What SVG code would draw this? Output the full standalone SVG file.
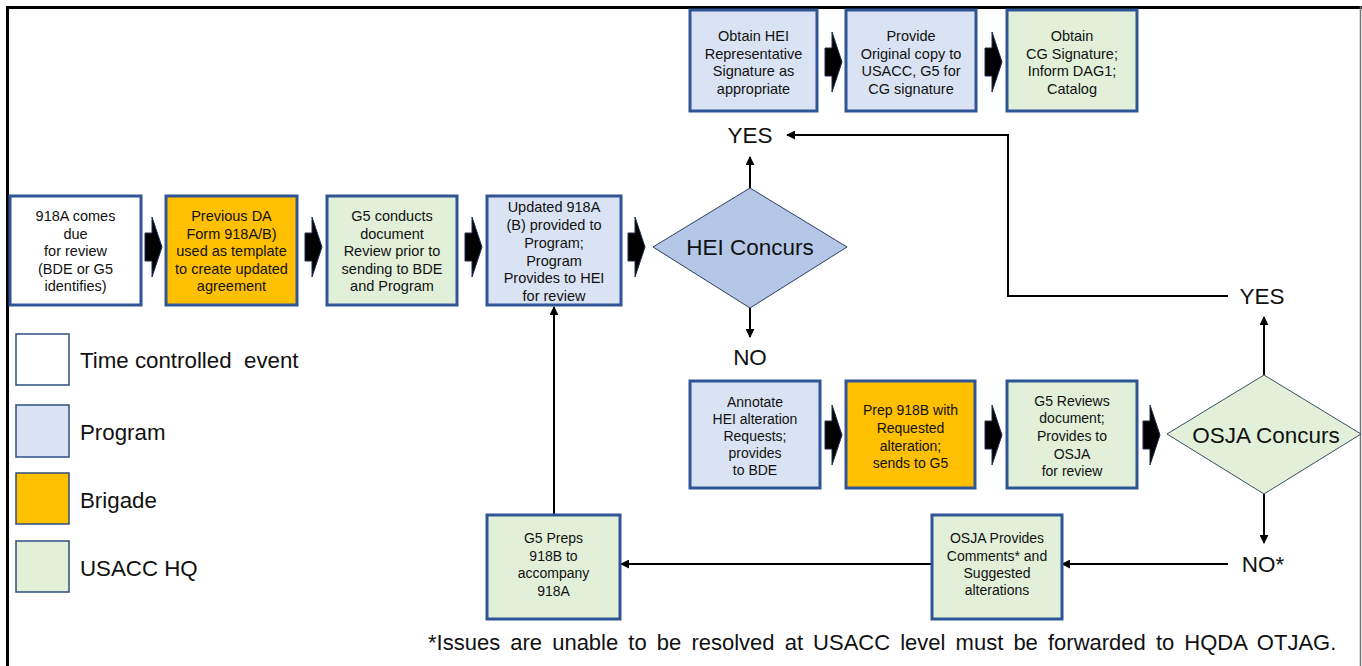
<svg xmlns="http://www.w3.org/2000/svg" width="1362" height="666" viewBox="0 0 1362 666">
<style>
.box{stroke:#2F5597;stroke-width:3}
.w{fill:#FFFFFF}.p{fill:#DAE3F3}.b{fill:#FFC000}.u{fill:#E2F0D9}
.leg{stroke:#2F4F7F;stroke-width:1.5}
.t{font-family:"Liberation Sans",Arial,sans-serif;font-size:14.5px;fill:#111;text-anchor:middle}
.s{font-size:14px}
.lbl{font-family:"Liberation Sans",Arial,sans-serif;font-size:22.5px;fill:#111;text-anchor:middle}
.legt{font-family:"Liberation Sans",Arial,sans-serif;font-size:22.3px;fill:#111}
.conn{stroke:#000;stroke-width:2;fill:none;marker-end:url(#ah)}
.blk{fill:#000;stroke:#1F2F4F;stroke-width:1}
</style>
<defs>
<marker id="ah" viewBox="0 0 10 10" refX="9" refY="5" markerWidth="9" markerHeight="9" markerUnits="userSpaceOnUse" orient="auto">
<path d="M0,0 L10,5 L0,10 Z" fill="#000"/>
</marker>
<path id="blk" class="blk" d="M0,-14 L7,-14 L7,-30 L17,0 L7,30 L7,14 L0,14 Z"/>
</defs>
<rect width="1362" height="666" fill="#FFFFFF"/>
<g id="frame">
<line x1="6" y1="7.5" x2="1362" y2="7.5" stroke="#000" stroke-width="3"/>
<line x1="7.5" y1="6" x2="7.5" y2="666" stroke="#000" stroke-width="3"/>
<line x1="1360.5" y1="6" x2="1360.5" y2="666" stroke="#777" stroke-width="1.5"/>
</g>
<g id="connectors">
<use href="#blk" x="145" y="247"/>
<use href="#blk" x="305" y="247"/>
<use href="#blk" x="465" y="247"/>
<use href="#blk" x="628" y="247"/>
<use href="#blk" x="825" y="62"/>
<use href="#blk" x="985" y="62"/>
<use href="#blk" x="825" y="435"/>
<use href="#blk" x="985" y="435"/>
<use href="#blk" x="1143" y="435"/>
<line class="conn" x1="750" y1="188" x2="750" y2="157"/>
<line class="conn" x1="750" y1="308" x2="750" y2="337"/>
<line class="conn" x1="1264" y1="375" x2="1264" y2="317"/>
<line class="conn" x1="1264" y1="494" x2="1264" y2="543"/>
<polyline class="conn" points="1228,296 1008,296 1008,135 787,135"/>
<line class="conn" x1="1228" y1="564" x2="1062" y2="564"/>
<line class="conn" x1="932" y1="564" x2="621" y2="564"/>
<line class="conn" x1="554" y1="514" x2="554" y2="307"/>
</g>
<g id="n1"><rect class="box w" x="10" y="196" width="131" height="109"/>
<text class="t"><tspan x="75.5" y="221">918A comes</tspan><tspan x="75.5" y="238.5">due</tspan><tspan x="75.5" y="256">for review</tspan><tspan x="75.5" y="273.5">(BDE or G5</tspan><tspan x="75.5" y="291">identifies)</tspan></text></g>
<g id="n2"><rect class="box b" x="166" y="196" width="131" height="109"/>
<text class="t"><tspan x="231.5" y="221">Previous DA</tspan><tspan x="231.5" y="238.5">Form 918A/B)</tspan><tspan x="231.5" y="256">used as template</tspan><tspan x="231.5" y="273.5">to create updated</tspan><tspan x="231.5" y="291">agreement</tspan></text></g>
<g id="n3"><rect class="box u" x="327" y="196" width="130" height="109"/>
<text class="t"><tspan x="392" y="221">G5 conducts</tspan><tspan x="392" y="238.5">document</tspan><tspan x="392" y="256">Review prior to</tspan><tspan x="392" y="273.5">sending to BDE</tspan><tspan x="392" y="291">and Program</tspan></text></g>
<g id="n4"><rect class="box p" x="487" y="196" width="134" height="109"/>
<text class="t"><tspan x="554" y="212">Updated 918A</tspan><tspan x="554" y="230">(B) provided to</tspan><tspan x="554" y="248">Program;</tspan><tspan x="554" y="265.5">Program</tspan><tspan x="554" y="283">Provides to HEI</tspan><tspan x="554" y="301">for review</tspan></text></g>
<g id="hei"><polygon points="653,247 750,188 847,247 750,308" fill="#B4C7E7" stroke="#2F3F5F" stroke-width="1"/>
<text class="lbl" x="750" y="255">HEI Concurs</text></g>
<g id="t1"><rect class="box p" x="690" y="10" width="127" height="101"/>
<text class="t"><tspan x="753.5" y="41">Obtain HEI</tspan><tspan x="753.5" y="58.5">Representative</tspan><tspan x="753.5" y="76">Signature as</tspan><tspan x="753.5" y="94">appropriate</tspan></text></g>
<g id="t2"><rect class="box p" x="846" y="10" width="130" height="101"/>
<text class="t"><tspan x="911" y="41">Provide</tspan><tspan x="911" y="58.5">Original copy to</tspan><tspan x="911" y="76">USACC, G5 for</tspan><tspan x="911" y="94">CG signature</tspan></text></g>
<g id="t3"><rect class="box u" x="1007" y="10" width="130" height="101"/>
<text class="t"><tspan x="1072" y="41">Obtain</tspan><tspan x="1072" y="58.5">CG Signature;</tspan><tspan x="1072" y="76">Inform DAG1;</tspan><tspan x="1072" y="94">Catalog</tspan></text></g>
<g id="yes1"><text class="lbl" x="750" y="143">YES</text></g>
<g id="no1"><text class="lbl" x="750" y="365">NO</text></g>
<g id="m1"><rect class="box p" x="690" y="381" width="130" height="107"/>
<text class="t s"><tspan x="755" y="407">Annotate</tspan><tspan x="755" y="424">HEI alteration</tspan><tspan x="755" y="441">Requests;</tspan><tspan x="755" y="458">provides</tspan><tspan x="755" y="475">to BDE</tspan></text></g>
<g id="m2"><rect class="box b" x="846" y="381" width="129" height="107"/>
<text class="t s"><tspan x="910.5" y="415">Prep 918B with</tspan><tspan x="910.5" y="433">Requested</tspan><tspan x="910.5" y="451">alteration;</tspan><tspan x="910.5" y="468">sends to G5</tspan></text></g>
<g id="m3"><rect class="box u" x="1007" y="381" width="130" height="107"/>
<text class="t s"><tspan x="1072" y="406">G5 Reviews</tspan><tspan x="1072" y="423">document;</tspan><tspan x="1072" y="441">Provides to</tspan><tspan x="1072" y="459">OSJA</tspan><tspan x="1072" y="476">for review</tspan></text></g>
<g id="osja"><polygon points="1167,434 1264,375 1361,434 1264,494" fill="#E2F0D9" stroke="#3C4B63" stroke-width="1"/>
<text class="lbl" x="1266" y="443">OSJA Concurs</text></g>
<g id="yes2"><text class="lbl" x="1262" y="304">YES</text></g>
<g id="no2"><text class="lbl" x="1263" y="572">NO*</text></g>
<g id="b1"><rect class="box u" x="487" y="515" width="133" height="104"/>
<text class="t s"><tspan x="553.5" y="543">G5 Preps</tspan><tspan x="553.5" y="561">918B to</tspan><tspan x="553.5" y="578">accompany</tspan><tspan x="553.5" y="596">918A</tspan></text></g>
<g id="b2"><rect class="box u" x="932" y="515" width="130" height="104"/>
<text class="t s"><tspan x="997" y="543">OSJA Provides</tspan><tspan x="997" y="561">Comments* and</tspan><tspan x="997" y="578">Suggested</tspan><tspan x="997" y="595">alterations</tspan></text></g>
<g id="legend">
<rect class="leg w" x="16" y="334" width="53" height="51"/>
<rect class="leg p" x="16" y="405" width="53" height="52"/>
<rect class="leg b" x="16" y="473" width="53" height="51"/>
<rect class="leg u" x="16" y="541" width="53" height="51"/>
<text class="legt" x="80" y="368" xml:space="preserve">Time controlled  event</text>
<text class="legt" x="80" y="440">Program</text>
<text class="legt" x="80" y="508">Brigade</text>
<text class="legt" x="80" y="576">USACC HQ</text>
</g>
<g id="note"><text class="legt" x="428" y="650" style="font-size:22px;word-spacing:4px">*Issues are unable to be resolved at USACC level must be forwarded to HQDA OTJAG.</text></g>
</svg>
